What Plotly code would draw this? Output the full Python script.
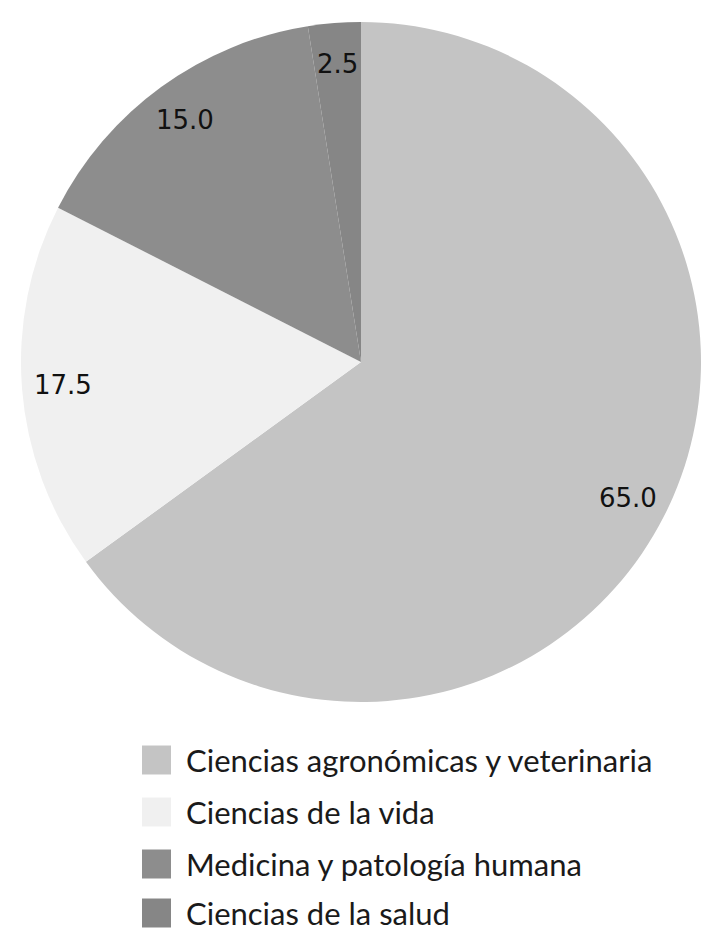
import math
import plotly.graph_objects as go

# Distribución por área de conocimiento
categories = [
    "Ciencias agronómicas y veterinaria",
    "Ciencias de la vida",
    "Medicina y patología humana",
    "Ciencias de la salud",
]
values = [65.0, 17.5, 15.0, 2.5]
colors = ["#c4c4c4", "#f0f0f0", "#8d8d8d", "#868686"]

W, H = 703, 928

# Pie placement (pixels)
CX, CY, R = 361, 362, 340
LABEL_R = 0.88  # value labels sit near the outer rim

fig = go.Figure(
    go.Pie(
        labels=categories,
        values=values,
        sort=False,
        direction="clockwise",
        rotation=0,
        marker=dict(colors=colors, line=dict(width=0)),
        textinfo="none",
        domain=dict(x=[(CX - R) / W, (CX + R) / W], y=[1 - (CY + R) / H, 1 - (CY - R) / H]),
        showlegend=False,
        hoverinfo="label+value",
    )
)

annotations = []

# Value labels placed at the middle angle of each slice
total = sum(values)
start = 0.0
for v in values:
    mid = (start + v / 2) / total * 2 * math.pi
    start += v
    px = CX + LABEL_R * R * math.sin(mid)
    py = CY - LABEL_R * R * math.cos(mid)
    annotations.append(
        dict(
            text=f"{v:.1f}", xref="paper", yref="paper",
            x=px / W, y=1 - py / H,
            xanchor="center", yanchor="middle", showarrow=False,
            font=dict(family="DejaVu Sans", size=26, color="#111111"),
        )
    )

# Legend drawn as swatches plus text below the pie
shapes = []
row_y = [760, 812, 864, 913]
for cat, col, yc in zip(categories, colors, row_y):
    shapes.append(
        dict(
            type="rect", xref="paper", yref="paper",
            x0=142 / W, x1=171 / W,
            y0=1 - (yc + 14.5) / H, y1=1 - (yc - 14.5) / H,
            fillcolor=col, line=dict(width=0),
        )
    )
    annotations.append(
        dict(
            text=cat, xref="paper", yref="paper",
            x=184 / W, y=1 - yc / H,
            xanchor="left", yanchor="middle", showarrow=False,
            font=dict(family="Lato", size=31, color="#1a1a1a"),
        )
    )

fig.update_layout(
    width=W,
    height=H,
    margin=dict(l=0, r=0, t=0, b=0),
    paper_bgcolor="white",
    plot_bgcolor="white",
    shapes=shapes,
    annotations=annotations,
)

fig.write_html("out.html")
